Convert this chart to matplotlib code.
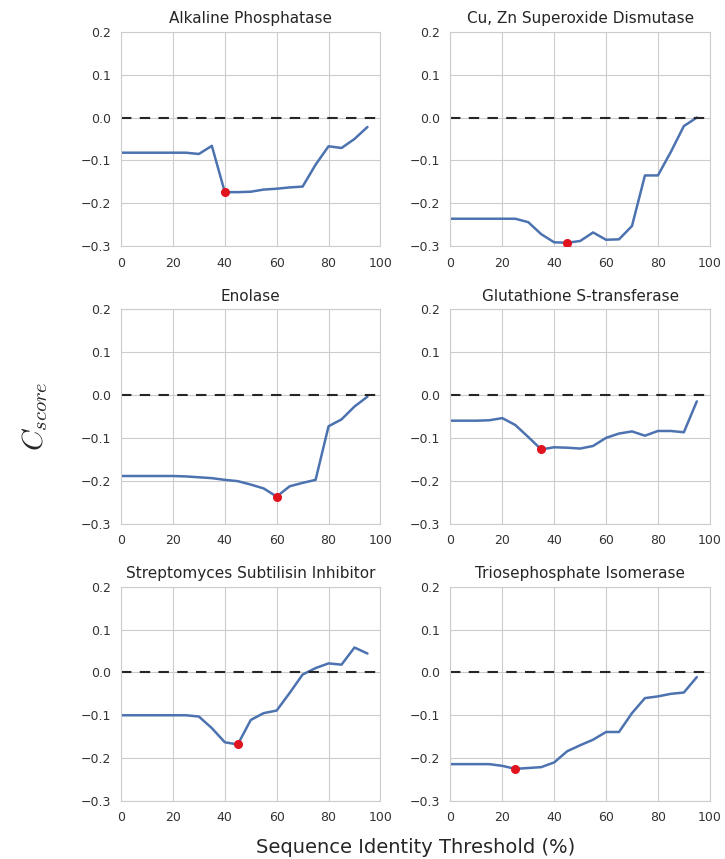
import matplotlib
matplotlib.use("Agg")
import matplotlib.pyplot as plt
import numpy as np
import seaborn as sns

sns.set_style("whitegrid")
plt.rcParams["axes.unicode_minus"] = True
plt.rcParams["mathtext.fontset"] = "cm"

# sequence identity thresholds (%)
thresholds = np.arange(0, 100, 5)

titles = ["Alkaline Phosphatase", "Cu, Zn Superoxide Dismutase", "Enolase",
          "Glutathione S-transferase", "Streptomyces Subtilisin Inhibitor",
          "Triosephosphate Isomerase"]

alkaline = [-0.082, -0.082, -0.082, -0.082, -0.082, -0.082, -0.085, -0.066, -0.174, -0.174,
            -0.173, -0.168, -0.166, -0.163, -0.161, -0.110, -0.067, -0.071, -0.050, -0.022]
cu_zn = [-0.236, -0.236, -0.236, -0.236, -0.236, -0.236, -0.244, -0.272, -0.291, -0.292,
         -0.288, -0.268, -0.285, -0.284, -0.253, -0.135, -0.135, -0.080, -0.020, 0.000]
enolase = [-0.189, -0.189, -0.189, -0.189, -0.189, -0.190, -0.192, -0.194, -0.198, -0.201,
           -0.209, -0.218, -0.237, -0.213, -0.205, -0.198, -0.073, -0.057, -0.027, -0.004]
gst = [-0.060, -0.060, -0.060, -0.059, -0.054, -0.070, -0.098, -0.127, -0.122, -0.123,
       -0.125, -0.119, -0.100, -0.090, -0.085, -0.095, -0.084, -0.084, -0.087, -0.015]
ssi = [-0.100, -0.100, -0.100, -0.100, -0.100, -0.100, -0.103, -0.130, -0.163, -0.168,
       -0.111, -0.095, -0.089, -0.048, -0.005, 0.010, 0.021, 0.018, 0.058, 0.044]
tpi = [-0.214, -0.214, -0.214, -0.214, -0.218, -0.225, -0.223, -0.221, -0.210, -0.184,
       -0.170, -0.157, -0.139, -0.139, -0.095, -0.060, -0.056, -0.050, -0.047, -0.011]

series = [alkaline, cu_zn, enolase, gst, ssi, tpi]

fig, axes = plt.subplots(3, 2, figsize=(7.25, 8.59), dpi=100)

for ax, title, values in zip(axes.flat, titles, series):
    ax.plot(thresholds, values, color="#4C72B0", lw=1.8)
    ax.axhline(0, color="#262626", ls="--", lw=1.5, dashes=(5, 4))
    i_min = int(np.argmin(values))
    ax.plot(thresholds[i_min], values[i_min], "o", color="#e0141e", ms=5.5, zorder=5)
    ax.set_xlim(0, 100)
    ax.set_ylim(-0.3, 0.2)
    ax.set_xticks(np.arange(0, 101, 20))
    ax.set_yticks(np.arange(-0.3, 0.21, 0.1))
    ax.tick_params(labelsize=9, colors="#333333", pad=4)
    ax.set_title(title, fontsize=11, color="#262626")

fig.text(0.048, 0.515, "$C_{score}$", fontsize=21, rotation=90, ha="center", va="center",
         color="#262626")
fig.text(0.573, 0.013, "Sequence Identity Threshold (%)", fontsize=14, ha="center",
         va="center", color="#262626")

plt.subplots_adjust(left=0.167, right=0.979, top=0.963, bottom=0.0675, wspace=0.27, hspace=0.294)
plt.savefig("out.png", dpi=100)
